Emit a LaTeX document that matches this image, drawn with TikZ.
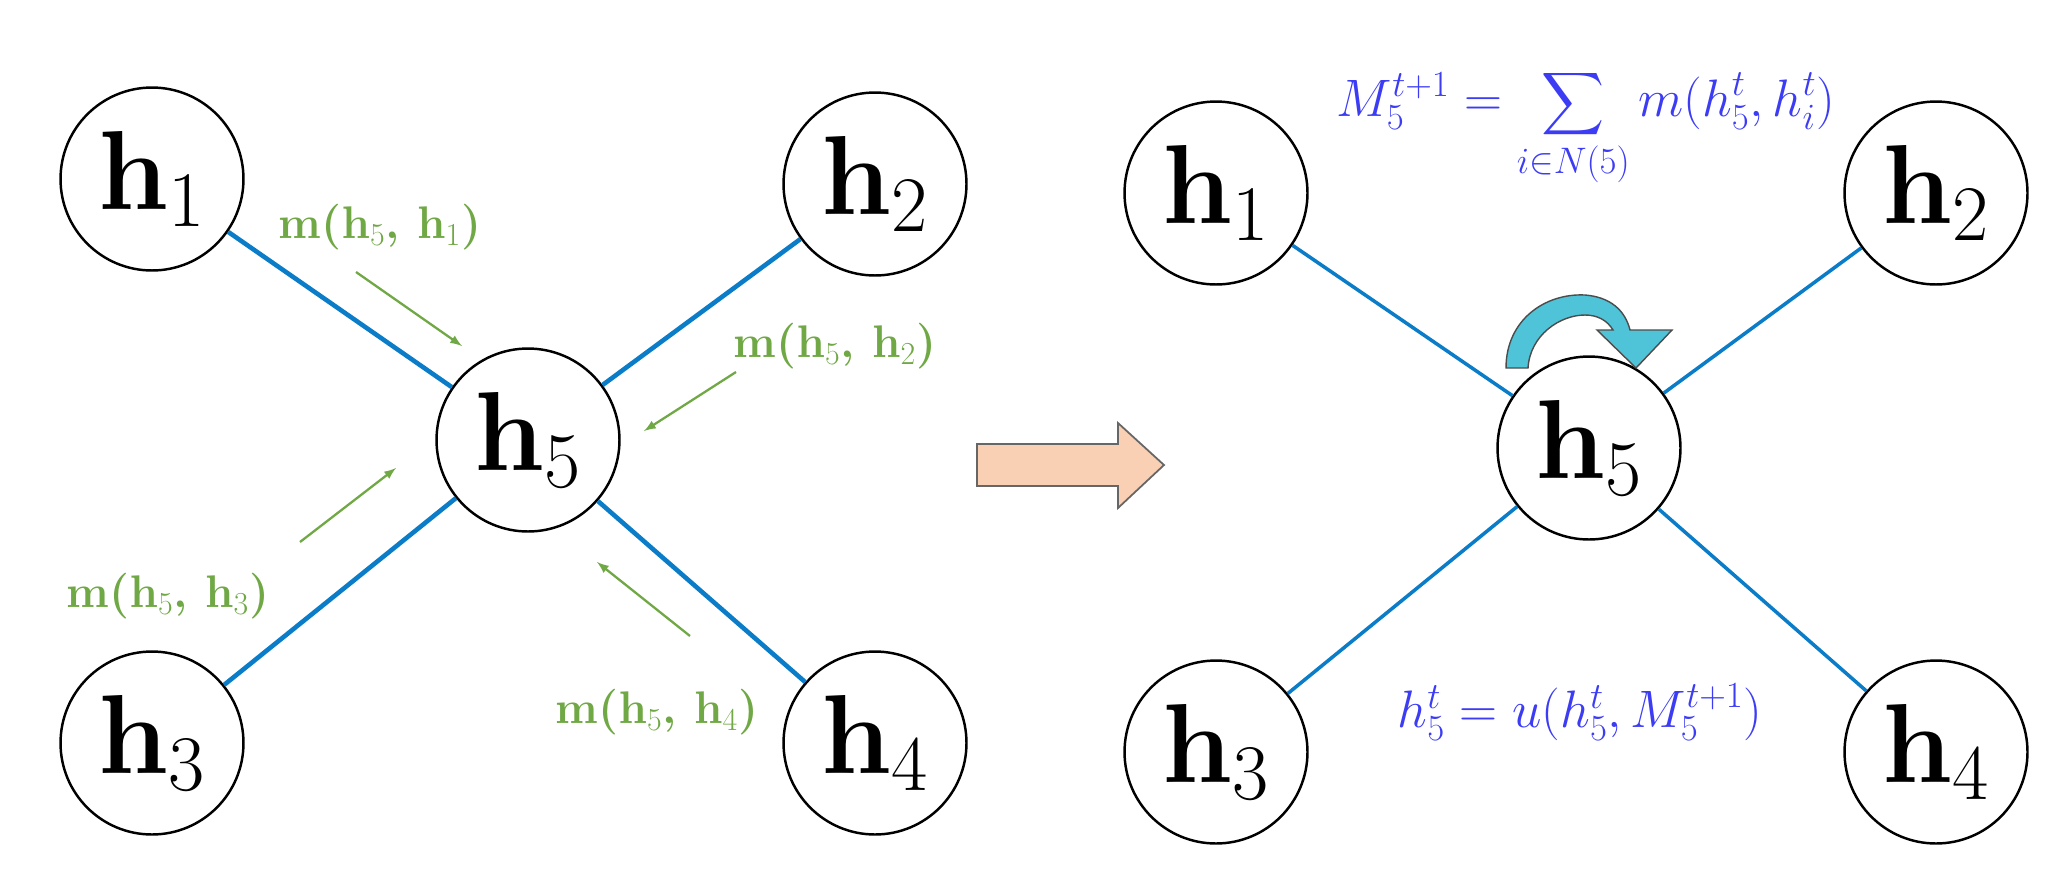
\RequirePackage{fix-cm}
\documentclass[tikz,border=0pt]{standalone}
\usepackage{amsmath}
\usepackage{xcolor}
\definecolor{edgeblue}{HTML}{0A7CC8}
\definecolor{msggreen}{HTML}{70A845}
\definecolor{eqblue}{HTML}{3C3CF5}
\definecolor{loopcyan}{HTML}{4FC3D8}
\definecolor{peach}{HTML}{FAD0B4}

\begin{document}
\begin{tikzpicture}[x=0.02cm,y=-0.02cm,
  hnode/.style={draw,circle,line width=1.4pt,minimum size=3.66cm,inner sep=0pt,font=\fontsize{64}{70}\selectfont},
  link/.style={draw=edgeblue,line width=2.6pt},
  thinlink/.style={draw=edgeblue,line width=2pt},
  msg/.style={text=msggreen,font=\fontsize{26}{30}\selectfont\bfseries},
  msgarrow/.style={draw=msggreen,line width=1.3pt,-latex},
  eq/.style={text=eqblue,font=\fontsize{30}{34}\selectfont}]
\useasboundingbox (0,0) rectangle (2071,890);

% left graph
\node (a1) at (152,179)[hnode]{$\mathbf{h}_1$};
\node (a2) at (875,184)[hnode]{$\mathbf{h}_2$};
\node (a5) at (528,440)[hnode]{$\mathbf{h}_5$};
\node (a3) at (152,743)[hnode]{$\mathbf{h}_3$};
\node (a4) at (875,743)[hnode]{$\mathbf{h}_4$};
\foreach \n in {a1,a2,a3,a4} \path[link] (\n) -- (a5);

\node (l1) at (380,227)[msg]{m($\mathbf{h}_5$, $\mathbf{h}_1$)};
\node (l2) at (835,346)[msg]{m($\mathbf{h}_5$, $\mathbf{h}_2$)};
\node (l3) at (168,596)[msg]{m($\mathbf{h}_5$, $\mathbf{h}_3$)};
\node (l4) at (657,712)[msg]{m($\mathbf{h}_5$, $\mathbf{h}_4$)};
\coordinate (s1) at (356,272); \coordinate (e1) at (462,346);
\coordinate (s2) at (736,372); \coordinate (e2) at (644,431);
\coordinate (s3) at (300,542); \coordinate (e3) at (396,468);
\coordinate (s4) at (690,636); \coordinate (e4) at (597,562);
\foreach \i in {1,...,4} \draw[msgarrow] (s\i) -- (e\i);

% big arrow
\filldraw[fill=peach,draw=gray!80!black,line width=1pt] (977,444) -- (1118,444) -- (1118,423) -- (1164,465)
  -- (1118,508) -- (1118,486) -- (977,486) -- cycle;

% right graph
\node (b1) at (1216,193)[hnode]{$\mathbf{h}_1$};
\node (b2) at (1936,193)[hnode]{$\mathbf{h}_2$};
\node (b5) at (1589,448)[hnode]{$\mathbf{h}_5$};
\node (b3) at (1216,752)[hnode]{$\mathbf{h}_3$};
\node (b4) at (1936,752)[hnode]{$\mathbf{h}_4$};
\foreach \n in {b1,b2,b3,b4} \path[thinlink] (\n) -- (b5);

\node (agg) at (1586,128)[eq]{$M_5^{t+1} = \displaystyle\sum_{i\in N(5)} m(h_5^t,h_i^t)$};
\node (upd) at (1580,712)[eq]{$h_5^t = u(h_5^t,M_5^{t+1})$};

% self update
\filldraw[fill=loopcyan,draw=black!70,line width=0.8pt] (1506,368) .. controls (1506,320) and (1545,293) .. (1585,295)
  .. controls (1610,297) and (1625,310) .. (1630,330) -- (1672,330) -- (1636,368) -- (1597,330) -- (1613,330)
  .. controls (1607,320) and (1597,315) .. (1585,315) .. controls (1560,315) and (1530,335) .. (1528,368) -- cycle;
\end{tikzpicture}
\end{document}
